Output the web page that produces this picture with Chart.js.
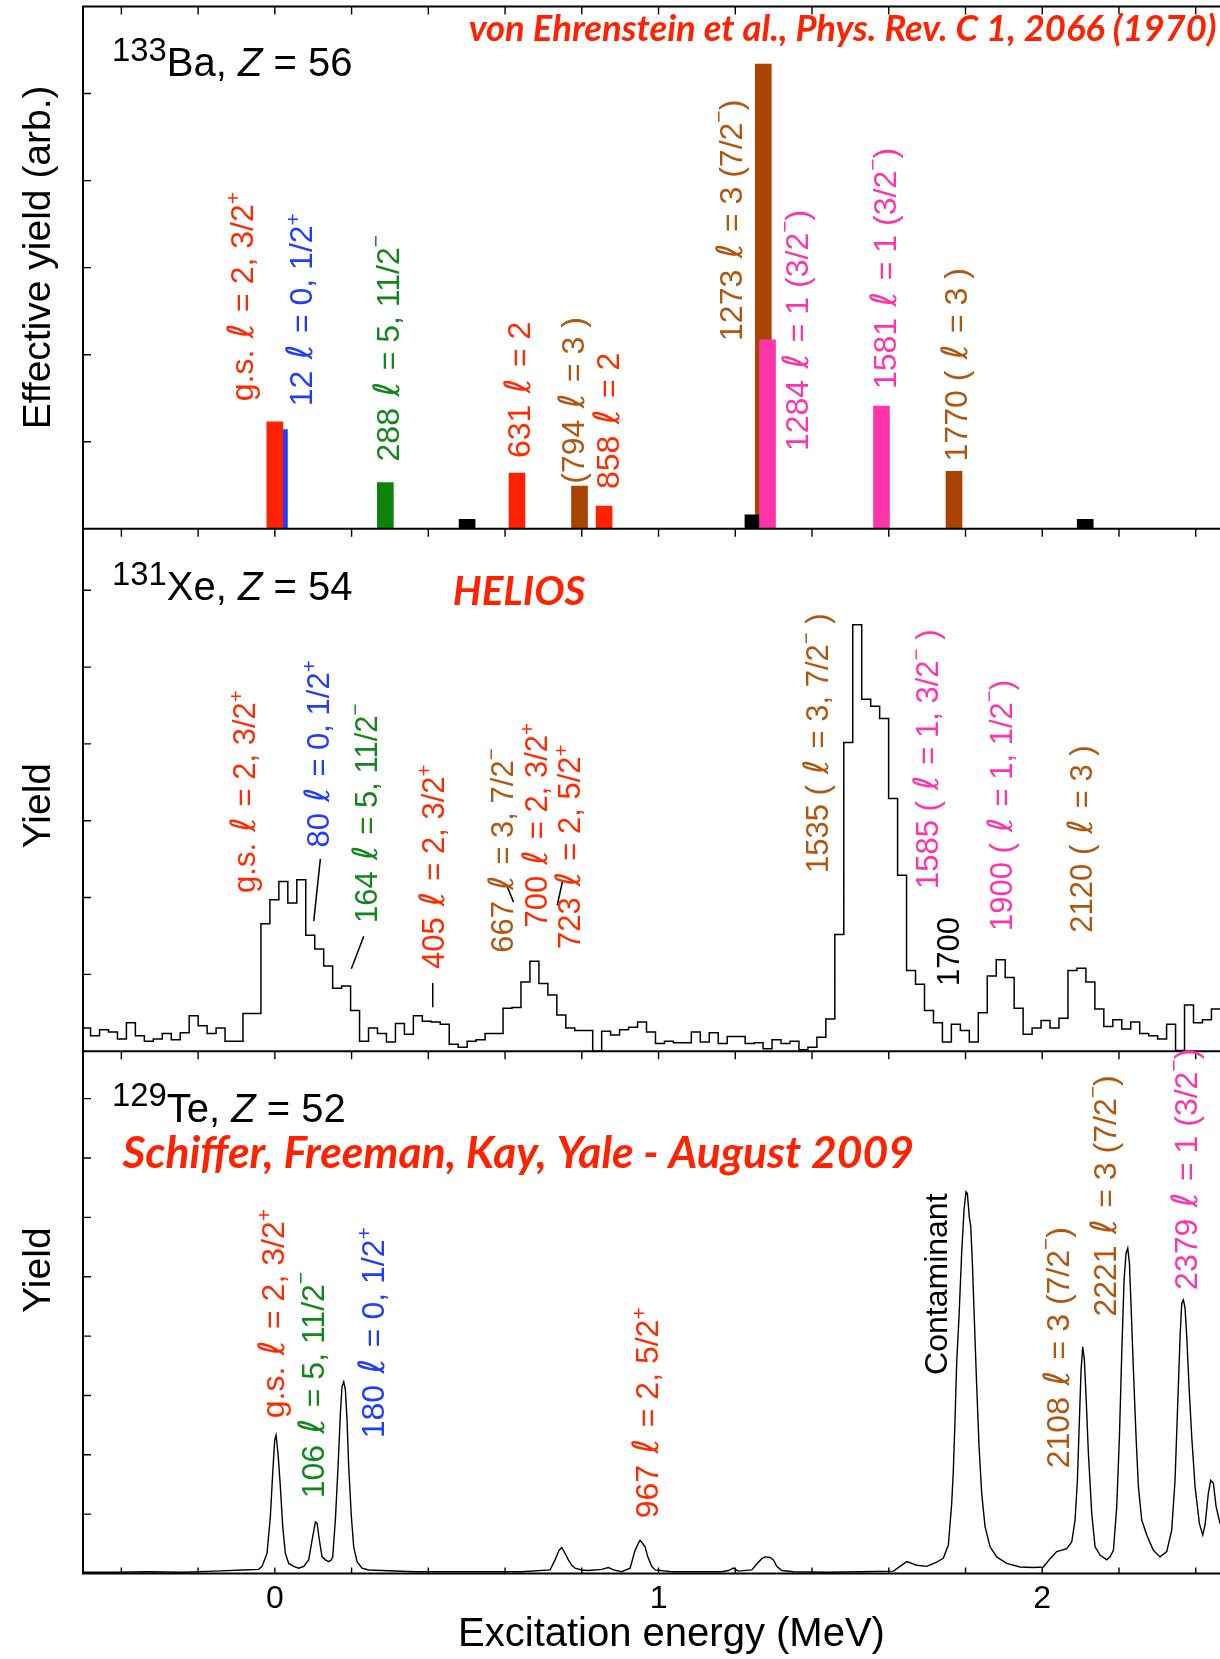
<!DOCTYPE html>
<html><head><meta charset="utf-8">
<script src="https://cdn.jsdelivr.net/npm/chart.js@4.4.1/dist/chart.umd.min.js"></script>
<style>
html,body{margin:0;padding:0;background:#fff;overflow:hidden;width:1220px;height:1659px;}
#wrap{position:relative;width:1260px;height:1659px;}
canvas{display:block;}
</style></head>
<body><div id="wrap"><canvas id="c" width="1260" height="1659"></canvas></div>
<script>
// ================= DATA =================
// shared x axis (excitation energy, MeV)
const xTickValues = [-0.4,-0.2,0,0.2,0.4,0.6,0.8,1,1.2,1.4,1.6,1.8,2,2.2,2.4];

// ---- Panel 1: 133Ba, von Ehrenstein et al. (bar yields) ----
const baEnergy = [0.012, 0.000, 0.288, 0.501, 0.631, 0.794, 0.858, 1.273, 1.246, 1.284, 1.581, 1.770, 2.112];
const baYield  = [1.14,  1.23,  0.53,  0.11,  0.64,  0.49,  0.26,  5.34,  0.16,  2.17,  1.41,  0.66,  0.11];
const baEll    = [0,     2,     5,     null,  2,     3,     2,     3,     null,  1,     1,     3,     null];

const baLabelText = ['g.s. ℓ = 2, 3/2^+','12 ℓ = 0, 1/2^+','288 ℓ = 5, 11/2^−','631 ℓ = 2','(794 ℓ = 3 )','858 ℓ = 2','1273 ℓ = 3 (7/2^−)','1284 ℓ = 1 (3/2^−)','1581 ℓ = 1 (3/2^−)','1770 ( ℓ = 3 )'];
const baLabelEll  = [2, 0, 5, 2, 3, 2, 3, 1, 1, 3];
const baLabelE    = [-0.0566, 0.098, 0.3247, 0.6648, 0.8069, 0.8965, 1.2184, 1.3886, 1.6185, 1.8038];
const baLabelY    = [1.466, 1.407, 0.774, 0.813, 0.517, 0.457, 2.158, 0.893, 1.605, 0.774];

// ---- Panel 2: 131Xe, HELIOS (histogram) ----
const xeBinOrigin = -0.0363;   // low edge of bin index 0 (MeV)
const xeBinWidth  = 0.02337;   // MeV
const xeFirstBin  = -20;
const xeCounts = [
 0.30,0.20,0.28,0.25,0.16,0.37,0.20,0.13,0.16,0.23,0.15,0.24,0.46,0.33,0.23,0.30,
 0.13,0.13,0.49,0.49,
 1.66,1.97,2.21,1.93,2.23,1.51,1.33,1.11,0.82,0.85,
 0.53,0.13,0.30,0.23,0.12,0.36,0.22,0.46,0.39,0.38,
 0.35,0.09,0.05,0.13,0.15,0.23,0.23,0.56,0.57,0.90,
 1.17,0.88,0.73,0.47,0.30,0.27,0.27,0.00,0.26,0.21,
 0.28,0.31,0.38,0.25,0.10,0.13,0.11,0.11,0.25,0.12,
 0.24,0.10,0.19,0.19,0.10,0.11,0.03,0.15,0.10,0.13,
 0.02,0.05,0.18,0.42,1.52,4.02,5.55,4.58,4.49,4.33,
 3.29,2.29,1.05,0.87,0.53,0.37,0.12,0.35,0.27,0.12,
 0.50,0.98,1.19,0.96,0.56,0.22,0.30,0.40,0.30,0.43,
 1.05,1.08,0.90,0.55,0.32,0.41,0.29,0.38,0.23,0.20,
 0.16,0.35,0.01,0.60,0.37,0.41,0.55
];
// leader lines (start/end energy and yield)
const xeLeaderE = [[0.1186,0.1014],[0.2317,0.1994],[0.4115,0.4115],[0.606,0.622],[0.750,0.736]];
const xeLeaderY = [[2.504,1.693],[1.497,1.072],[0.889,0.573],[2.14,1.94],[2.22,1.90]];

const xeLabelText = ['g.s. ℓ = 2, 3/2^+','80 ℓ = 0, 1/2^+','164 ℓ = 5, 11/2^−','405 ℓ = 2, 3/2^+','667 ℓ = 3, 7/2^−','700 ℓ = 2, 3/2^+','723 ℓ = 2, 5/2^+','1535 ( ℓ = 3, 7/2^− )','1585 ( ℓ = 1, 3/2^− )','1700','1900 ( ℓ = 1, 1/2^−)','2120 ( ℓ = 3 )'];
const xeLabelEll  = [2, 0, 5, 2, 3, 2, 2, 3, 1, null, 1, 3];
const xeLabelE    = [-0.0508, 0.1405, 0.2664, 0.4402, 0.6216, 0.7086, 0.7954, 1.4425, 1.7292, 1.784, 1.9205, 2.1306];
const xeLabelY    = [2.06, 2.65, 1.67, 1.07, 1.28, 1.61, 1.33, 2.32, 2.11, 0.85, 1.565, 1.543];

// ---- Panel 3: 129Te, Yale (fine spectrum) ----
const teEnergy = [
 -0.500,-0.4156,-0.3288,-0.2419,-0.155,-0.0855,-0.042,-0.0334,-0.0204,-0.0117,-0.0056,-0.0004,0.0031,0.0083,0.0144,0.0205,0.0274,0.0361,0.0491,0.0622,
 0.0752,0.0882,0.0969,0.1056,0.110,0.1161,0.123,0.1317,0.1404,0.1474,0.1508,0.1577,0.1647,0.1708,0.1751,0.1795,0.1838,0.1881,0.1925,0.1994,
 0.2055,0.2142,0.2272,0.2446,0.2793,0.3662,0.4878,0.5565,0.6434,0.7172,0.7303,0.7407,0.7477,0.7563,0.765,0.7737,0.7824,0.7998,0.8172,0.8519,
 0.8693,0.8823,0.904,0.9258,0.9388,0.9475,0.9519,0.958,0.9649,0.9719,0.9823,0.991,1.0344,1.0779,1.1647,1.1821,1.1952,1.2082,1.2429,1.256,
 1.269,1.2777,1.2907,1.2994,1.3081,1.3211,1.3514,1.4383,1.5252,1.6121,1.6468,1.6728,1.6989,1.7249,1.7423,1.7553,1.764,1.7683,1.7727,1.777,
 1.7831,1.790,1.7961,1.8013,1.8048,1.810,1.8136,1.8179,1.8231,1.8292,1.8353,1.8422,1.8509,1.864,1.8813,1.9074,1.9422,1.9769,2.003,2.0204,
 2.0377,2.0638,2.0768,2.0855,2.0916,2.0968,2.1012,2.1055,2.1098,2.1142,2.1203,2.129,2.1377,2.1507,2.1681,2.1768,2.1855,2.1942,2.2011,2.2072,
 2.2133,2.2185,2.2228,2.2272,2.2315,2.2376,2.2445,2.2506,2.2593,2.2723,2.2897,2.307,2.3244,2.3374,2.3461,2.3522,2.3592,2.3635,2.3679,2.3722,
 2.3766,2.3826,2.3896,2.3983,2.4096,2.4183,2.4243,2.433,2.4391,2.446,2.453,2.4634
];
const teYield = [
 0.02,0.02,0.03,0.02,0.04,0.06,0.07,0.12,0.34,0.96,1.69,2.25,2.33,2.02,1.46,0.79,0.34,0.17,0.12,0.09,
 0.12,0.23,0.56,0.87,0.85,0.56,0.28,0.23,0.20,0.23,0.28,0.90,1.80,2.70,3.15,3.23,3.10,2.59,1.80,0.96,
 0.45,0.20,0.09,0.06,0.05,0.03,0.03,0.03,0.03,0.06,0.23,0.39,0.44,0.34,0.23,0.14,0.09,0.06,0.05,0.07,
 0.10,0.06,0.03,0.09,0.39,0.51,0.56,0.51,0.45,0.28,0.12,0.06,0.03,0.03,0.03,0.05,0.09,0.04,0.06,0.16,
 0.25,0.28,0.27,0.23,0.12,0.05,0.03,0.02,0.03,0.04,0.20,0.14,0.12,0.19,0.26,0.48,1.18,1.74,2.59,3.55,
 4.33,5.40,6.12,6.43,6.40,6.00,5.85,5.23,4.27,3.15,2.14,1.35,0.79,0.45,0.28,0.17,0.11,0.10,0.11,0.25,
 0.37,0.42,0.53,0.90,1.57,2.59,3.43,3.82,3.60,2.98,2.02,1.01,0.45,0.31,0.23,0.28,0.39,1.13,2.30,3.71,
 4.95,5.40,5.48,5.23,4.50,3.43,2.30,1.46,0.90,0.65,0.39,0.28,0.37,0.73,1.57,2.70,3.99,4.55,4.61,4.47,
 3.99,3.15,2.30,1.46,0.84,0.65,0.82,1.36,1.57,1.52,1.13,0.84
];
const teLabelText = ['g.s. ℓ = 2, 3/2^+','106 ℓ = 5, 11/2^−','180 ℓ = 0, 1/2^+','967 ℓ = 2, 5/2^+','Contaminant','2108 ℓ = 3 (7/2^−)','2221 ℓ = 3 (7/2^−)','2379 ℓ = 1 (3/2^−)'];
const teLabelEll  = [2, 5, 0, 2, null, 3, 3, 1];
const teLabelE    = [0.0232, 0.1274, 0.2838, 0.9995, 1.7511, 2.0706, 2.1923, 2.4027];
const teLabelY    = [2.616, 1.267, 2.279, 0.93, 3.346, 1.773, 4.328, 4.778];

// panel identification
const panelMass    = ['133', '131', '129'];
const panelElement = ['Ba', 'Xe', 'Te'];
const panelZ       = ['56', '54', '52'];
const panelCredit  = ['von Ehrenstein et al., Phys. Rev. C 1, 2066 (1970)', 'HELIOS', 'Schiffer, Freeman, Kay, Yale - August 2009'];
const panelYTitle  = ['Effective yield (arb.)', 'Yield', 'Yield'];

// ================= STYLE / LAYOUT =================
const FONT = '"Liberation Sans", Arial, Helvetica, sans-serif';
const ELL_FONT = '"DejaVu Sans", "Liberation Sans", sans-serif';
const CREDIT_FONT = 'Lato, "Open Sans", sans-serif';
const barColor  = {0:'#2040ff', 1:'#ff34a8', 2:'#ff2200', 3:'#a84400', 5:'#0c840c', none:'#000000'};
const textColor = {0:'#1f3cff', 1:'#ff33aa', 2:'#ff2a00', 3:'#b0560f', 5:'#12861a', none:'#000000'};
const colorOf = (map, ell) => (ell === null || ell === undefined) ? map.none : map[ell];

const panelIds = ['yBa', 'yXe', 'yTe'];
const panelMax = [6, 6.8, 8.8];
const labelSize = [32, 31, 32];
// text anchor positions (x in MeV, y in each panel's axis units)
const isoPos    = [[-0.4243, 5.197], [-0.4243, 5.876], [-0.4243, 7.613]];
const creditPos = [[0.5051, 5.608], [0.4636, 5.809], [-0.3969, 6.826]];
const creditWidth = [748, 132.5, 791.5];
const yTitleCenter = [3.118, 3.197, 5.112];

// ================= BUILD DATASETS =================
const xePoints = xeCounts.map((c, i) => ({x: xeBinOrigin + (xeFirstBin + i) * xeBinWidth, y: c}));
xePoints.push({x: xeBinOrigin + (xeFirstBin + xeCounts.length) * xeBinWidth, y: xeCounts[xeCounts.length - 1]});

const datasets = [
  { type: 'bar', label: '133Ba', yAxisID: 'yBa', xAxisID: 'x',
    data: baEnergy.map((e, i) => ({x: e, y: baYield[i]})),
    backgroundColor: baEll.map(l => colorOf(barColor, l)),
    borderWidth: 0, barThickness: 16 },
  { type: 'line', label: '131Xe', yAxisID: 'yXe', xAxisID: 'x', data: xePoints,
    stepped: 'before', borderColor: '#000', borderWidth: 1.5, pointRadius: 0, fill: false },
  { type: 'line', label: '129Te', yAxisID: 'yTe', xAxisID: 'x',
    data: teEnergy.map((e, i) => ({x: e, y: teYield[i]})),
    borderColor: '#000', borderWidth: 1.4, pointRadius: 0, tension: 0, fill: false }
];
xeLeaderE.forEach((es, i) => {
  datasets.push({ type: 'line', label: 'leader' + i, yAxisID: 'yXe', xAxisID: 'x',
    data: [{x: es[0], y: xeLeaderY[i][0]}, {x: es[1], y: xeLeaderY[i][1]}],
    borderColor: '#000', borderWidth: 1.5, pointRadius: 0, fill: false });
});

// ================= TEXT HELPERS =================
function parseLabel(s) {
  const runs = []; let buf = '';
  const flush = () => { if (buf) runs.push({t: buf}); buf = ''; };
  for (let i = 0; i < s.length; i++) {
    const c = s[i];
    if (c === '^') { flush(); runs.push({t: s[++i], sup: true}); }
    else if (c === 'ℓ') { flush(); runs.push({t: 'ℓ', ell: true}); }
    else buf += c;
  }
  flush();
  return runs;
}
function drawRuns(ctx, runs, size, family) {
  let x = 0;
  for (const r of runs) {
    let fs = size, dy = 0, fam = family, style = r.it ? 'italic ' : '', pad = 0;
    if (r.sup) {
      fs = size * (r.scale || 0.66);
      dy = -size * (r.rise || (r.t === '−' ? 0.50 : 0.40));
    }
    if (r.ell) { fs = size * 1.12; fam = ELL_FONT; style = 'italic '; pad = size * 0.08; }
    ctx.font = style + fs.toFixed(1) + 'px ' + fam;
    x += pad;
    ctx.fillText(r.t, x, dy);
    x += ctx.measureText(r.t).width + pad;
  }
}

const annotPlugin = {
  id: 'annot',
  afterDraw(chart) {
    const {ctx, chartArea: ca, scales} = chart;
    const xs = scales.x;
    const P = panelIds.map(id => scales[id]);
    ctx.save();
    // ---- frame & inward ticks ----
    ctx.strokeStyle = '#000';
    ctx.lineWidth = 1.4;
    ctx.beginPath();
    for (const v of xTickValues) {
      const px = xs.getPixelForValue(v);
      for (const p of P) { ctx.moveTo(px, p.top); ctx.lineTo(px, p.top + 8); }
      ctx.moveTo(px, P[2].bottom); ctx.lineTo(px, P[2].bottom - 6);
    }
    P.forEach((p, k) => {
      for (const t of p.ticks) {
        if (t.value > 0 && t.value < panelMax[k] - 0.05) {
          const py = p.getPixelForValue(t.value);
          ctx.moveTo(ca.left, py); ctx.lineTo(ca.left + 8, py);
        }
      }
    });
    ctx.stroke();
    ctx.lineWidth = 2;
    ctx.beginPath();
    for (const p of P) { ctx.moveTo(ca.left, p.top); ctx.lineTo(ca.right, p.top); }
    ctx.moveTo(ca.left, P[2].bottom); ctx.lineTo(ca.right, P[2].bottom);
    ctx.moveTo(ca.left, ca.top - 1); ctx.lineTo(ca.left, ca.bottom + 1);
    ctx.stroke();

    ctx.textBaseline = 'alphabetic';
    ctx.textAlign = 'left';
    // ---- y titles ----
    P.forEach((p, k) => {
      ctx.save();
      ctx.translate(ca.left - 33, p.getPixelForValue(yTitleCenter[k]));
      ctx.rotate(-Math.PI / 2);
      ctx.textAlign = 'center';
      ctx.fillStyle = '#000';
      ctx.font = '39px ' + FONT;
      ctx.fillText(panelYTitle[k], 0, 0);
      ctx.restore();
    });
    // ---- isotope labels ----
    P.forEach((p, k) => {
      ctx.save();
      ctx.translate(xs.getPixelForValue(isoPos[k][0]), p.getPixelForValue(isoPos[k][1]));
      ctx.fillStyle = '#000';
      drawRuns(ctx, [
        {t: panelMass[k], sup: true, scale: 0.82, rise: 0.38},
        {t: panelElement[k] + ', '}, {t: 'Z', it: true}, {t: ' = ' + panelZ[k]}
      ], 40, FONT);
      ctx.restore();
    });
    // ---- credits ----
    P.forEach((p, k) => {
      ctx.save();
      ctx.font = 'italic 700 100px ' + CREDIT_FONT;
      const w = ctx.measureText(panelCredit[k]).width;
      const size = 100 * creditWidth[k] / w;
      ctx.font = 'italic 700 ' + size.toFixed(2) + 'px ' + CREDIT_FONT;
      ctx.fillStyle = '#ff2200';
      ctx.fillText(panelCredit[k], xs.getPixelForValue(creditPos[k][0]), p.getPixelForValue(creditPos[k][1]));
      ctx.restore();
    });
    // ---- rotated state labels ----
    const groups = [
      [baLabelText, baLabelEll, baLabelE, baLabelY, P[0], labelSize[0]],
      [xeLabelText, xeLabelEll, xeLabelE, xeLabelY, P[1], labelSize[1]],
      [teLabelText, teLabelEll, teLabelE, teLabelY, P[2], labelSize[2]]
    ];
    for (const [txt, ell, ex, ey, p, sz] of groups) {
      txt.forEach((s, i) => {
        ctx.save();
        ctx.translate(xs.getPixelForValue(ex[i]), p.getPixelForValue(ey[i]));
        ctx.rotate(-Math.PI / 2);
        ctx.fillStyle = colorOf(textColor, ell[i]);
        drawRuns(ctx, parseLabel(s), sz, FONT);
        ctx.restore();
      });
    }
    ctx.restore();
  }
};

const yAxis = (k) => ({
  type: 'linear', position: 'left', stack: 'panels', stackWeight: 1, weight: 3 - k,
  min: 0, max: panelMax[k],
  ticks: {stepSize: 1, display: false},
  grid: {display: false, drawTicks: false},
  border: {display: false},
  title: {display: false}
});

new Chart(document.getElementById('c'), {
  type: 'bar',
  data: {datasets},
  plugins: [annotPlugin],
  options: {
    responsive: false,
    animation: false,
    devicePixelRatio: 1,
    layout: {padding: {left: 83, right: 0, top: 6.5, bottom: 0}},
    plugins: {legend: {display: false}, tooltip: {enabled: false}, title: {display: false}},
    scales: {
      x: {
        type: 'linear', position: 'bottom', min: -0.5, max: 2.5675, offset: false,
        afterBuildTicks: (s) => { s.ticks = xTickValues.map(v => ({value: v})); },
        afterFit: (s) => { s.height = 85.5; },
        ticks: {
          autoSkip: false, maxRotation: 0, minRotation: 0, padding: 6, color: '#000',
          font: {family: FONT, size: 32},
          callback: (v) => Math.abs(v - Math.round(v)) < 1e-6 ? String(Math.round(v)) : ''
        },
        grid: {display: false, drawTicks: false, offset: false},
        border: {display: false},
        title: {display: true, text: 'Excitation energy (MeV)', color: '#000',
                font: {family: FONT, size: 40}, padding: {top: 0, bottom: 0}}
      },
      yTe: yAxis(2),
      yXe: yAxis(1),
      yBa: yAxis(0)
    }
  }
});
</script>
</body></html>
